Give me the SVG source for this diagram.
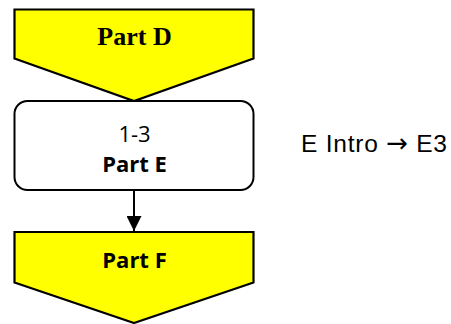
<svg xmlns="http://www.w3.org/2000/svg" width="451" height="324" viewBox="0 0 451 324">
<style>
.arrowshape{fill:#FFFF00;stroke:#000;stroke-width:2.2;stroke-linejoin:miter}
.box{fill:#fff;stroke:#000;stroke-width:2}
.serif{font-family:"Liberation Serif","Times New Roman",serif;font-weight:bold;font-size:26px;fill:#000}
.sans{font-family:"Open Sans","Noto Sans",sans-serif;font-size:22px;fill:#000}
.note{font-family:"Liberation Sans",Arial,sans-serif;font-size:24.5px;fill:#000}
</style>
<defs>
<marker id="ah" markerWidth="17" markerHeight="15" refX="17" refY="8.5" orient="auto" markerUnits="userSpaceOnUse" viewBox="0 0 17 17">
<path d="M0,0 L17,8.5 L0,17 Z" fill="#000"/>
</marker>
</defs>
<rect width="451" height="324" fill="#fff"/>
<g id="connectors">
<line x1="134" y1="190" x2="134" y2="231" stroke="#000" stroke-width="2" marker-end="url(#ah)"/>
</g>
<g id="partD">
<polygon class="arrowshape" points="14.5,9.5 253.5,9.5 253.5,58.5 134,101 14.5,58.5"/>
<text class="serif" x="134.5" y="45" text-anchor="middle">Part D</text>
</g>
<g id="partE">
<rect class="box" x="14.5" y="101" width="239" height="89" rx="13" ry="13"/>
<text class="sans" x="134.5" y="142.3" text-anchor="middle" font-size="23">1-3</text>
<text class="sans" x="134.5" y="172.3" text-anchor="middle" font-weight="bold">Part E</text>
</g>
<g id="partF">
<polygon class="arrowshape" points="14.5,232 253.5,232 253.5,282.5 134,323 14.5,282.5"/>
<text class="sans" x="134.5" y="268.3" text-anchor="middle" font-weight="bold">Part F</text>
</g>
<g id="note">
<text class="note" x="301" y="151.5" textLength="146" lengthAdjust="spacing">E Intro <tspan font-family="DejaVu Sans, sans-serif" font-size="26">→</tspan> E3</text>
</g>
</svg>
